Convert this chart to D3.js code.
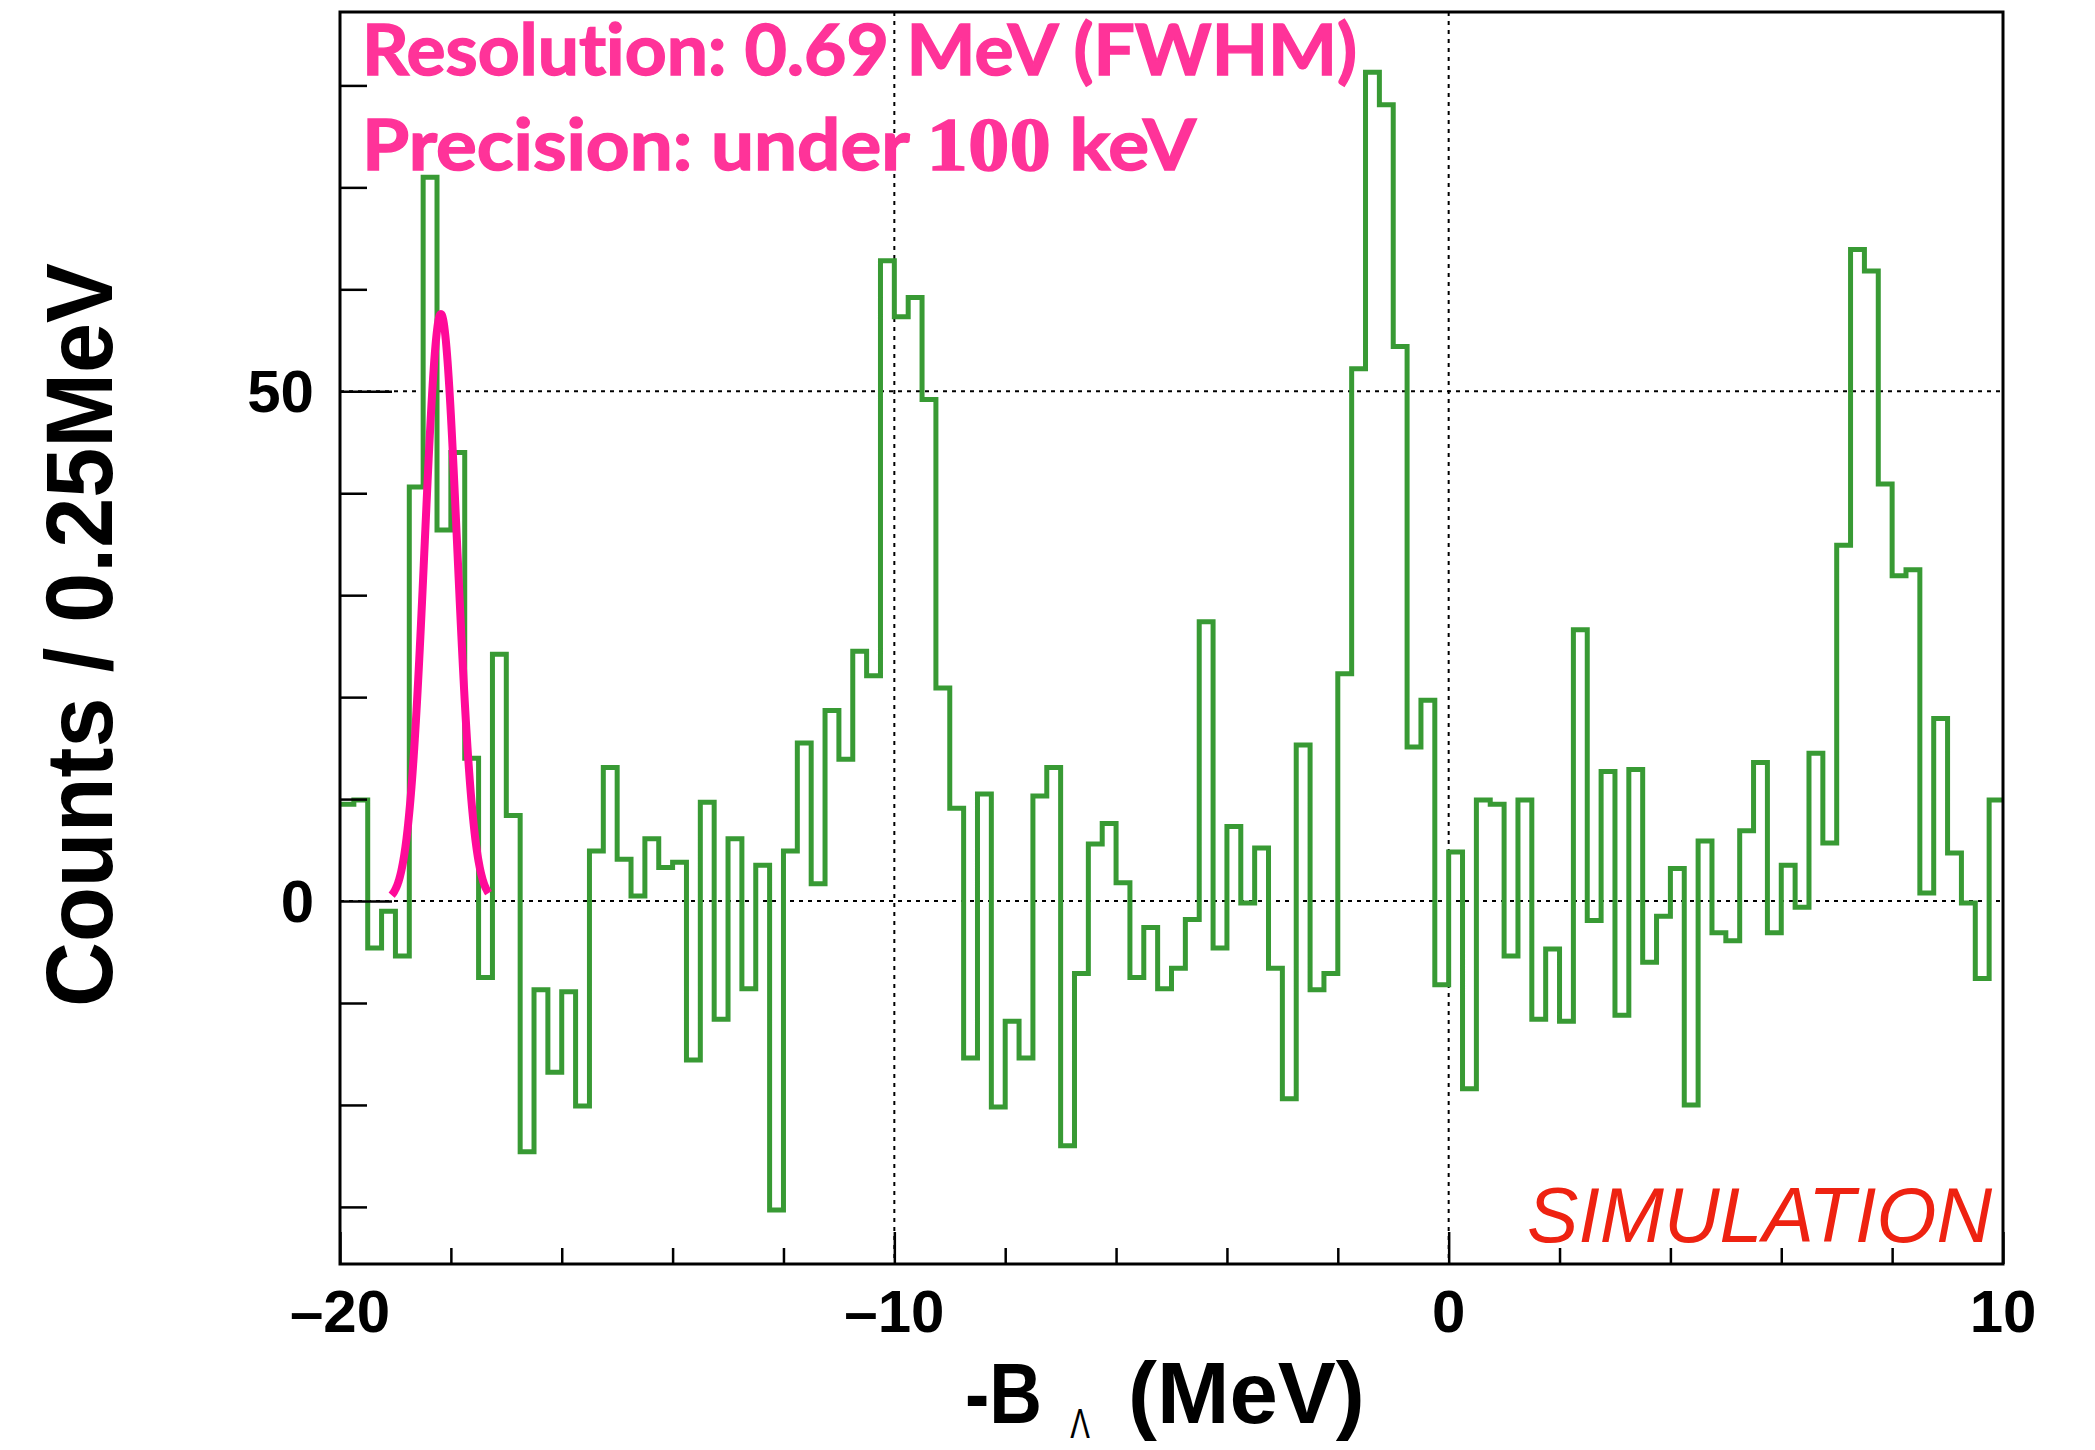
<!DOCTYPE html>
<html><head><meta charset="utf-8">
<script src="https://cdn.jsdelivr.net/npm/d3@7"></script>
<style>html,body{margin:0;padding:0;background:#fff;} svg{display:block} text{font-variant-ligatures:none;}</style>
</head><body>
<svg id="chart" width="2095" height="1450"></svg>
<script>
// ---------- data ----------
const binStart = -20;
const binWidth = 0.25;
const counts = [
  9.5, 9.9, -4.6, -1.0, -5.4, 40.6, 71.0, 36.4, 44.0, 14.0,
  -7.5, 24.2, 8.4, -24.6, -8.7, -16.8, -8.9, -20.1, 4.9, 13.1,
  4.1, 0.5, 6.1, 3.3, 3.8, -15.6, 9.7, -11.6, 6.1, -8.6,
  3.5, -30.3, 4.9, 15.5, 1.7, 18.7, 13.9, 24.5, 22.1, 62.8,
  57.3, 59.2, 49.2, 20.9, 9.1, -15.4, 10.5, -20.2, -11.8, -15.4,
  10.3, 13.1, -24.0, -7.1, 5.6, 7.6, 1.8, -7.5, -2.6, -8.6,
  -6.6, -1.8, 27.4, -4.6, 7.3, -0.2, 5.2, -6.6, -19.4, 15.3,
  -8.7, -7.1, 22.3, 52.2, 81.3, 78.1, 54.4, 15.1, 19.7, -8.2,
  4.8, -18.4, 9.9, 9.5, -5.4, 9.9, -11.6, -4.7, -11.8, 26.6,
  -1.9, 12.7, -11.2, 12.9, -6.0, -1.5, 3.2, -20.0, 5.9, -3.1,
  -3.9, 6.9, 13.6, -3.1, 3.5, -0.6, 14.5, 5.7, 34.9, 63.9,
  61.8, 40.9, 31.9, 32.5, 0.8, 17.9, 4.7, -0.2, -7.6, 9.9
];
const xMajorTicks = [-20, -10, 0, 10];
const xTickLabels = ["\u201320", "\u201310", "0", "10"];
const xMinorTicks = [-18, -16, -14, -12, -8, -6, -4, -2, 2, 4, 6, 8];
const yMajorTicks = [0, 50];
const yTickLabels = ["0", "50"];
const yMinorTicks = [-30, -20, -10, 10, 20, 30, 40, 60, 70, 80];
const gridX = [-10, 0];
const gridY = [0, 50];
// Gaussian fit parameters (resolution curve, FWHM 0.69 MeV)
const fitAmp = 57.6, fitMean = -18.18, fitSigma = 0.293;
const fitRange = [-19.07, -17.32];

// ---------- layout ----------
const L = 340, R = 2003, T = 12, B = 1264;
const svg = d3.select("#chart");
const x = d3.scaleLinear().domain([-20, 10]).range([L, R]);
const y = d3.scaleLinear().domain([-35.6, 87.2]).range([B, T]);

// grid
const grid = svg.append("g").attr("stroke", "#000").attr("stroke-width", 2).attr("stroke-dasharray", "4,5");
grid.selectAll("line.gx").data(gridX).join("line").attr("class", "gx")
  .attr("x1", d => x(d)).attr("x2", d => x(d)).attr("y1", T).attr("y2", B);
grid.selectAll("line.gy").data(gridY).join("line").attr("class", "gy")
  .attr("x1", L).attr("x2", R).attr("y1", d => y(d)).attr("y2", d => y(d));

// histogram
const pts = [];
counts.forEach((v, i) => {
  const e0 = binStart + i * binWidth, e1 = e0 + binWidth;
  pts.push([e0, v]); pts.push([e1, v]);
});
svg.append("path")
  .attr("d", d3.line().x(d => x(d[0])).y(d => y(d[1]))(pts))
  .attr("fill", "none").attr("stroke", "#389a34").attr("stroke-width", 5)
  .attr("stroke-linejoin", "miter");

// gaussian fit
const gx = d3.range(fitRange[0], fitRange[1] + 0.001, 0.01);
const gpts = gx.map(t => [t, fitAmp * Math.exp(-0.5 * Math.pow((t - fitMean) / fitSigma, 2))]);
svg.append("path")
  .attr("d", d3.line().x(d => x(d[0])).y(d => y(d[1])).curve(d3.curveBasis)(gpts))
  .attr("fill", "none").attr("stroke", "#ff0a99").attr("stroke-width", 8)
  .attr("stroke-linecap", "butt").attr("stroke-linejoin", "round");

// axes ticks (drawn inward)
const yMinorAxis = d3.axisLeft(y).tickValues(yMinorTicks).tickSize(-27).tickFormat("");
const yMajorAxis = d3.axisLeft(y).tickValues(yMajorTicks).tickSize(-52).tickFormat("");
const xMinorAxis = d3.axisBottom(x).tickValues(xMinorTicks).tickSize(-16).tickFormat("");
const xMajorAxis = d3.axisBottom(x).tickValues(xMajorTicks).tickSize(-32).tickFormat("");
[yMinorAxis, yMajorAxis].forEach(a => {
  const g = svg.append("g").attr("transform", `translate(${L},0)`).call(a);
  g.select(".domain").remove();
  g.selectAll("line").attr("stroke", "#000").attr("stroke-width", 2.5);
});
[xMinorAxis, xMajorAxis].forEach(a => {
  const g = svg.append("g").attr("transform", `translate(0,${B})`).call(a);
  g.select(".domain").remove();
  g.selectAll("line").attr("stroke", "#000").attr("stroke-width", 2.5);
});

// frame
svg.append("rect").attr("x", L).attr("y", T).attr("width", R - L).attr("height", B - T)
  .attr("fill", "none").attr("stroke", "#000").attr("stroke-width", 3);

// tick labels
const lab = svg.append("g").attr("font-family", "'Liberation Sans', Arial, sans-serif")
  .attr("font-weight", "bold").attr("font-size", 60).attr("fill", "#000");
lab.selectAll("text.yl").data(yMajorTicks).join("text").attr("class", "yl")
  .attr("x", 314).attr("y", d => y(d) + 21).attr("text-anchor", "end")
  .text((d, i) => yTickLabels[i]);
lab.selectAll("text.xl").data(xMajorTicks).join("text").attr("class", "xl")
  .attr("x", d => x(d)).attr("y", 1332).attr("text-anchor", "middle")
  .text((d, i) => xTickLabels[i]);

// axis titles
svg.append("text")
  .attr("transform", "translate(112,635) rotate(-90)")
  .attr("text-anchor", "middle")
  .attr("font-family", "'Liberation Sans', Arial, sans-serif").attr("font-weight", "bold")
  .attr("font-size", 94).attr("textLength", 744).attr("lengthAdjust", "spacingAndGlyphs")
  .text("Counts / 0.25MeV");

const xt = svg.append("g").attr("font-family", "'Liberation Sans', Arial, sans-serif")
  .attr("font-weight", "bold").attr("fill", "#000");
xt.append("text").attr("x", 965).attr("y", 1423).attr("font-size", 86)
  .attr("textLength", 77).attr("lengthAdjust", "spacingAndGlyphs").text("-B");
xt.append("text").attr("transform", "translate(1080,1438) scale(0.7,1)").attr("text-anchor", "middle")
  .attr("font-size", 42).attr("font-weight", "normal").text("\u039B");
xt.append("text").attr("x", 1128).attr("y", 1423).attr("font-size", 87).text("(MeV)");

// annotations
const ann = svg.append("g").attr("font-family", "Lato, 'Open Sans', sans-serif")
  .attr("font-weight", "bold").attr("fill", "#ff3399").attr("stroke", "#ff3399")
  .attr("stroke-width", 1.4).attr("font-size", 70);
ann.append("text").attr("x", 362).attr("y", 75)
  .attr("textLength", 995).attr("lengthAdjust", "spacingAndGlyphs")
  .text("Resolution: 0.69 MeV (FWHM)");
const l2 = ann.append("text").attr("x", 362).attr("y", 170)
  .attr("textLength", 834).attr("lengthAdjust", "spacingAndGlyphs");
l2.append("tspan").text("Precision: under ");
l2.append("tspan").attr("style", "font-family:'Liberation Serif','DejaVu Serif',serif;font-size:76px").text("100");
l2.append("tspan").text(" keV");

svg.append("text").attr("x", 1992).attr("y", 1242).attr("text-anchor", "end")
  .attr("font-family", "'Liberation Sans', Arial, sans-serif").attr("font-style", "italic")
  .attr("font-size", 77).attr("fill", "#ee2211").text("SIMULATION");
</script>
</body></html>
